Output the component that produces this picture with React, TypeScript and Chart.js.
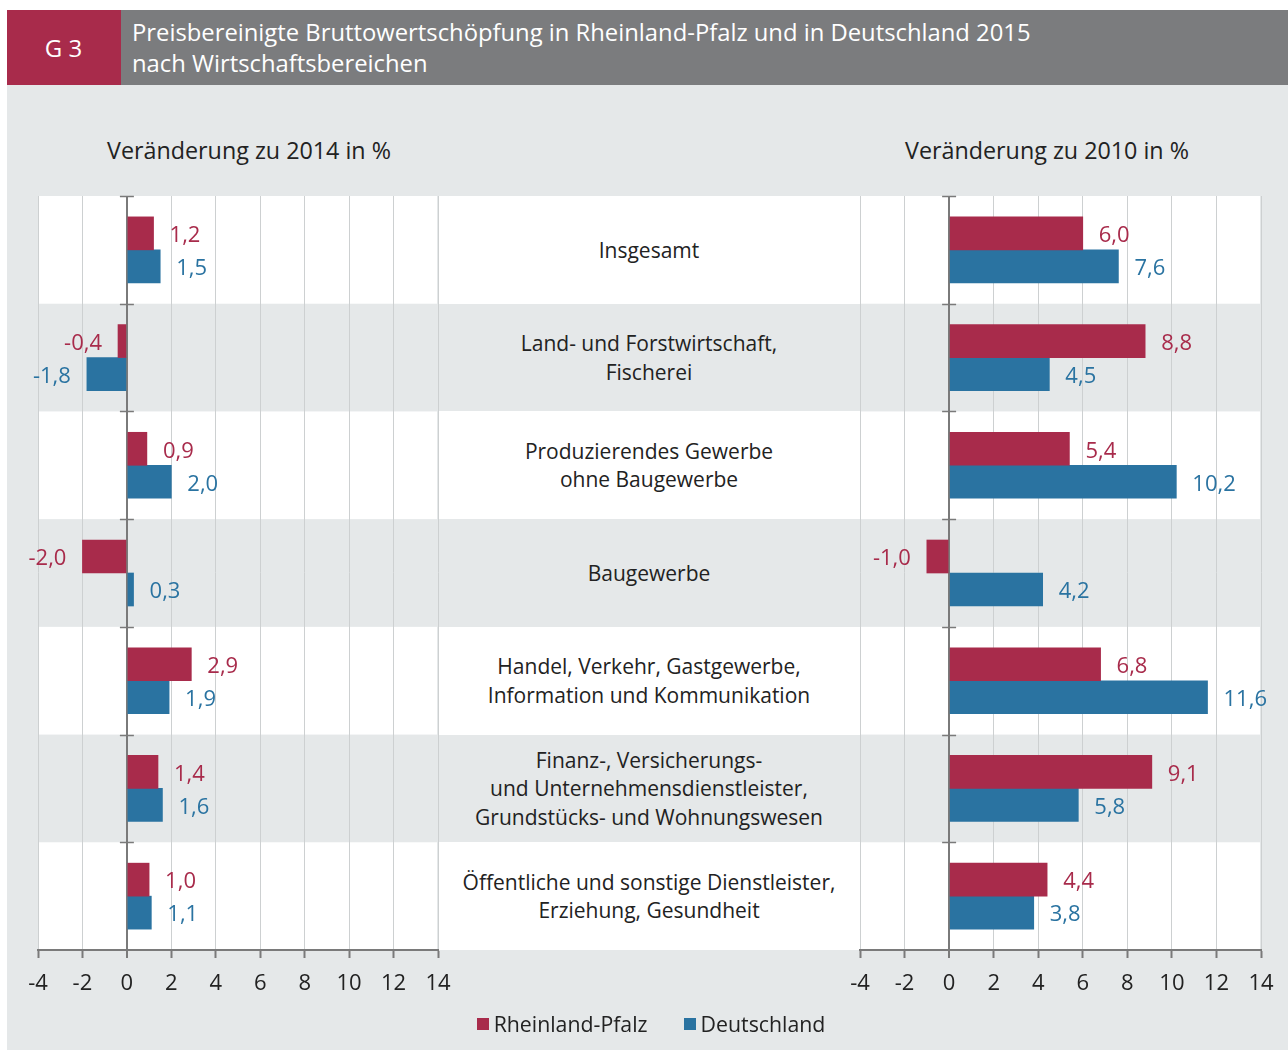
import React, { useEffect, useRef } from "react";
import { Chart, registerables } from "chart.js";

Chart.register(...registerables);

// ---------- data ----------
const categories: string[][] = [
  ["Insgesamt"],
  ["Land- und Forstwirtschaft,", "Fischerei"],
  ["Produzierendes Gewerbe", "ohne Baugewerbe"],
  ["Baugewerbe"],
  ["Handel, Verkehr, Gastgewerbe,", "Information und Kommunikation"],
  ["Finanz-, Versicherungs-", "und Unternehmensdienstleister,", "Grundstücks- und Wohnungswesen"],
  ["Öffentliche und sonstige Dienstleister,", "Erziehung, Gesundheit"],
];
const seriesNames = ["Rheinland-Pfalz", "Deutschland"];
const rpChange2014 = [1.2, -0.4, 0.9, -2.0, 2.9, 1.4, 1.0];
const deChange2014 = [1.5, -1.8, 2.0, 0.3, 1.9, 1.6, 1.1];
const rpChange2010 = [6.0, 8.8, 5.4, -1.0, 6.8, 9.1, 4.4];
const deChange2010 = [7.6, 4.5, 10.2, 4.2, 11.6, 5.8, 3.8];
const xTickValues = [-4, -2, 0, 2, 4, 6, 8, 10, 12, 14];
const leftTitle = "Veränderung zu 2014 in %";
const rightTitle = "Veränderung zu 2010 in %";
const headerTag = "G 3";
const headerTitle = [
  "Preisbereinigte Bruttowertschöpfung in Rheinland-Pfalz und in Deutschland 2015",
  "nach Wirtschaftsbereichen",
];

// ---------- style ----------
const FONT = '"Open Sans", "Noto Sans", sans-serif';
const RED = "#a82b4b";
const BLUE = "#2a73a1";
const PAGE_BG = "#e5e8e9";
const HEADER_GRAY = "#7b7c7e";
const AXIS = "#7a7a7a";
const GRID = "#cdd0d1";
const TEXT = "#222222";

const CANVAS_TOP = 186;
const CANVAS_H = 830;
const PLOT_TOP = 196;
const PLOT_BOTTOM = 950;

const bandsPlugin = {
  id: "bands",
  beforeDraw(chart: any) {
    const { ctx, chartArea } = chart;
    const n = categories.length;
    const h = (chartArea.bottom - chartArea.top) / n;
    ctx.save();
    ctx.fillStyle = "#ffffff";
    for (let i = 0; i < n; i += 2) {
      ctx.fillRect(chartArea.left + 1, chartArea.top + i * h, chartArea.right - chartArea.left - 2, h);
    }
    ctx.restore();
  },
};

const zeroTicksPlugin = {
  id: "zeroTicks",
  afterDatasetsDraw(chart: any) {
    const { ctx, chartArea, scales } = chart;
    const x0 = scales.x.getPixelForValue(0);
    const n = categories.length;
    const h = (chartArea.bottom - chartArea.top) / n;
    ctx.save();
    ctx.strokeStyle = AXIS;
    ctx.lineWidth = 1.5;
    for (let i = 0; i < n; i++) {
      const y = Math.round(chartArea.top + i * h) + 0.5;
      ctx.beginPath();
      ctx.moveTo(x0 - 7, y);
      ctx.lineTo(x0 + 7, y);
      ctx.stroke();
    }
    ctx.restore();
  },
};

const valueLabelsPlugin = {
  id: "valueLabels",
  afterDatasetsDraw(chart: any) {
    const { ctx } = chart;
    ctx.save();
    ctx.font = `22px ${FONT}`;
    ctx.textBaseline = "middle";
    chart.data.datasets.forEach((ds: any, di: number) => {
      const meta = chart.getDatasetMeta(di);
      meta.data.forEach((el: any, j: number) => {
        const v = ds.data[j] as number;
        const txt = v.toFixed(1).replace(".", ",");
        ctx.fillStyle = ds.backgroundColor;
        if (v >= 0) {
          ctx.textAlign = "left";
          ctx.fillText(txt, el.x + 16, el.y + 2.5);
        } else {
          ctx.textAlign = "right";
          ctx.fillText(txt, el.x - 16, el.y + 2.5);
        }
      });
    });
    ctx.restore();
  },
};

function makeConfig(rp: number[], de: number[], padLeft: number, padRight: number): any {
  return {
    type: "bar",
    data: {
      labels: categories.map((c) => c.join(" ")),
      datasets: [
        { label: seriesNames[0], data: rp, backgroundColor: RED, barThickness: 33, borderWidth: 0 },
        { label: seriesNames[1], data: de, backgroundColor: BLUE, barThickness: 33, borderWidth: 0 },
      ],
    },
    options: {
      indexAxis: "y",
      animation: false,
      responsive: false,
      maintainAspectRatio: false,
      layout: { padding: { left: padLeft, right: padRight, top: PLOT_TOP - CANVAS_TOP, bottom: 6 } },
      plugins: { legend: { display: false }, tooltip: { enabled: false } },
      scales: {
        x: {
          type: "linear",
          min: -4,
          max: 14,
          position: "bottom",
          afterBuildTicks: (axis: any) => {
            axis.ticks = xTickValues.map((v) => ({ value: v }));
          },
          afterFit: (axis: any) => {
            axis.height = CANVAS_H - 6 - (PLOT_BOTTOM - CANVAS_TOP);
          },
          grid: {
            color: (c: any) => (c.tick && c.tick.value === 0 ? AXIS : GRID),
            lineWidth: (c: any) => (c.tick && c.tick.value === 0 ? 2 : 1),
            tickLength: 8,
            tickColor: AXIS,
            tickWidth: 2,
          },
          border: { color: AXIS, width: 2 },
          ticks: {
            autoSkip: false,
            maxRotation: 0,
            padding: 13,
            color: TEXT,
            font: { family: FONT, size: 22 },
            callback: (v: any) => String(v),
          },
        },
        y: {
          type: "category",
          display: false,
          offset: true,
        },
      },
    },
    plugins: [bandsPlugin, zeroTicksPlugin, valueLabelsPlugin],
  };
}

function Panel(props: { rp: number[]; de: number[]; left: number; width: number; padLeft: number; padRight: number }) {
  const ref = useRef<HTMLCanvasElement>(null);
  useEffect(() => {
    const chart = new Chart(ref.current as HTMLCanvasElement, makeConfig(props.rp, props.de, props.padLeft, props.padRight));
    return () => chart.destroy();
  }, []);
  return (
    <canvas
      ref={ref}
      width={props.width}
      height={CANVAS_H}
      style={{ position: "absolute", left: props.left, top: CANVAS_TOP, width: props.width, height: CANVAS_H }}
    />
  );
}

export default function App() {
  const n = categories.length;
  const rowH = (PLOT_BOTTOM - PLOT_TOP) / n;
  return (
    <div
      style={{
        position: "absolute",
        left: 0,
        top: 0,
        width: 1288,
        height: 1050,
        background: "#ffffff",
        overflow: "hidden",
        fontFamily: FONT,
      }}
    >
      {/* header */}
      <div style={{ position: "absolute", left: 7, top: 10, width: 1281, height: 75, background: HEADER_GRAY }} />
      <div
        style={{
          position: "absolute",
          left: 7,
          top: 10,
          width: 113,
          height: 75,
          background: RED,
          color: "#fff",
          fontSize: 24,
          display: "flex",
          alignItems: "center",
          justifyContent: "center",
          paddingRight: 1,
        }}
      >
        {headerTag}
      </div>
      <div
        style={{
          position: "absolute",
          left: 132,
          top: 17,
          color: "#fff",
          fontSize: 23.8,
          lineHeight: "31px",
          whiteSpace: "nowrap",
        }}
      >
        {headerTitle.map((t, i) => (
          <div key={i}>{t}</div>
        ))}
      </div>
      {/* body background */}
      <div style={{ position: "absolute", left: 7, top: 85, width: 1281, height: 965, background: PAGE_BG }} />
      {/* panel titles */}
      <div style={{ position: "absolute", left: 49, width: 400, top: 134, textAlign: "center", fontSize: 23.3, color: TEXT, lineHeight: "32px" }}>
        {leftTitle}
      </div>
      <div style={{ position: "absolute", left: 847, width: 400, top: 134, textAlign: "center", fontSize: 23.3, color: TEXT, lineHeight: "32px" }}>
        {rightTitle}
      </div>
      {/* middle column */}
      {categories.map((lines, i) => (
        <div
          key={i}
          style={{
            position: "absolute",
            left: 438,
            width: 422,
            top: PLOT_TOP + i * rowH,
            height: rowH,
            background: i % 2 === 0 ? "#ffffff" : "transparent",
            display: "flex",
            flexDirection: "column",
            alignItems: "center",
            justifyContent: "center",
            fontSize: 21,
            lineHeight: "28.5px",
            color: TEXT,
            textAlign: "center",
            whiteSpace: "nowrap",
          }}
        >
          {lines.map((l, k) => (
            <div key={k}>{l}</div>
          ))}
        </div>
      ))}
      <Panel rp={rpChange2014} de={deChange2014} left={0} width={472} padLeft={38} padRight={34} />
      <Panel rp={rpChange2010} de={deChange2010} left={822} width={466} padLeft={38} padRight={27} />
      {/* legend */}
      <div
        style={{
          position: "absolute",
          left: 0,
          width: 1302,
          top: 1009,
          display: "flex",
          justifyContent: "center",
          alignItems: "center",
          fontSize: 21.3,
          color: TEXT,
          lineHeight: "30px",
        }}
      >
        {seriesNames.map((s, i) => (
          <div key={i} style={{ display: "flex", alignItems: "center", marginRight: i === 0 ? 36 : 0 }}>
            <span style={{ display: "inline-block", width: 12, height: 12, background: i === 0 ? RED : BLUE, marginRight: 5 }} />
            <span>{s}</span>
          </div>
        ))}
      </div>
    </div>
  );
}
